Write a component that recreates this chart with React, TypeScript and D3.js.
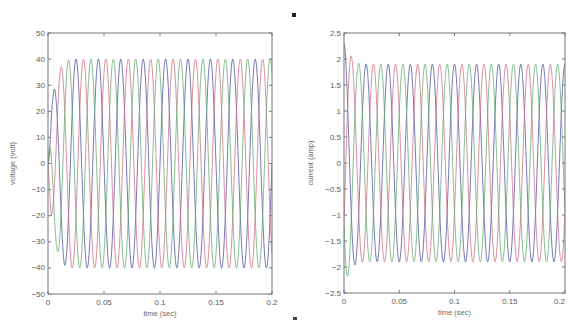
import React, { useEffect, useRef } from 'react';
import * as d3 from 'd3';

// ticks
const timeTicks = [0, 0.05, 0.1, 0.15, 0.2];
const voltTicks = [-50, -40, -30, -20, -10, 0, 10, 20, 30, 40, 50];
const currTicks = [-2.5, -2, -1.5, -1, -0.5, 0, 0.5, 1, 1.5, 2, 2.5];

// three-phase waveform parameters
const phaseNames = ['a', 'b', 'c'];
const phaseShiftsDeg = [0, -120, 120];
const phaseColors = ['#4a4c9c', '#cf6a82', '#5da86c'];
const lineFrequency = 50; // Hz

// peak envelope (time in s, peak value)
const voltEnvelope: [number, number][] = [
    [0, 0], [0.003, 22], [0.006, 30], [0.01, 36], [0.015, 39], [0.02, 40], [0.2, 40]
];
const currEnvelope: [number, number][] = [
    [0, 2.3], [0.004, 2.15], [0.008, 2.0], [0.012, 1.92], [0.02, 1.9], [0.2, 1.9]
];

const sampleStep = 0.0002;

function envelopeAt(env: [number, number][], t: number) {
    const xs = env.map(e => e[0]);
    const ys = env.map(e => e[1]);
    return d3.scaleLinear().domain(xs).range(ys).clamp(true)(t);
}

function buildSeries(env: [number, number][], cosine: boolean) {
    const times = d3.range(0, 0.2 + sampleStep / 2, sampleStep);
    return phaseNames.map((name, i) => {
        const shift = (phaseShiftsDeg[i] * Math.PI) / 180;
        const pts = times.map(t => {
            const w = 2 * Math.PI * lineFrequency * t + shift;
            const v = envelopeAt(env, t) * (cosine ? Math.cos(w) : Math.sin(w));
            return [t, v] as [number, number];
        });
        return { name, color: phaseColors[i], pts };
    });
}

function drawPanel(
    svg: d3.Selection<SVGSVGElement, unknown, null, undefined>,
    opts: {
        id: string; left: number; right: number; top: number; bottom: number;
        yDomain: [number, number]; yTicks: number[]; yLabel: string; yLabelX: number;
        series: { name: string; color: string; pts: [number, number][] }[];
    }
) {
    const x = d3.scaleLinear().domain([0, 0.2]).range([opts.left, opts.right]);
    const y = d3.scaleLinear().domain(opts.yDomain).range([opts.bottom, opts.top]);
    const font = '"Liberation Sans", Arial, sans-serif';

    svg.append('clipPath').attr('id', opts.id)
        .append('rect')
        .attr('x', opts.left).attr('y', opts.top)
        .attr('width', opts.right - opts.left).attr('height', opts.bottom - opts.top);

    const line = d3.line<[number, number]>().x(d => x(d[0])).y(d => y(d[1]));
    const lines = svg.append('g').attr('clip-path', `url(#${opts.id})`);
    opts.series.forEach(s => {
        lines.append('path')
            .attr('d', line(s.pts))
            .attr('fill', 'none')
            .attr('stroke', s.color)
            .attr('stroke-width', 1)
            .attr('stroke-opacity', 0.75);
    });

    // box
    svg.append('rect')
        .attr('x', opts.left).attr('y', opts.top)
        .attr('width', opts.right - opts.left).attr('height', opts.bottom - opts.top)
        .attr('fill', 'none').attr('stroke', '#777').attr('stroke-width', 1);

    // inward ticks (MATLAB style) on all sides
    const tg = svg.append('g').attr('stroke', '#777').attr('stroke-width', 1);
    timeTicks.forEach(t => {
        tg.append('line').attr('x1', x(t)).attr('x2', x(t)).attr('y1', opts.bottom).attr('y2', opts.bottom - 3);
        tg.append('line').attr('x1', x(t)).attr('x2', x(t)).attr('y1', opts.top).attr('y2', opts.top + 3);
    });
    opts.yTicks.forEach(v => {
        tg.append('line').attr('x1', opts.left).attr('x2', opts.left + 3).attr('y1', y(v)).attr('y2', y(v));
        tg.append('line').attr('x1', opts.right).attr('x2', opts.right - 3).attr('y1', y(v)).attr('y2', y(v));
    });

    // keep the last label inside the page when the axis runs to the edge
    svg.append('g').selectAll('text').data(timeTicks).join('text')
        .attr('x', d => Math.min(x(d), 566))
        .attr('y', opts.bottom + 11)
        .attr('text-anchor', d => (x(d) > 555 ? 'end' : 'middle'))
        .attr('font-family', font).attr('font-size', 8).attr('fill', '#5a5a5a')
        .text(d => d3.format('~g')(d));

    svg.append('g').selectAll('text').data(opts.yTicks).join('text')
        .attr('x', opts.left - 3).attr('y', d => y(d) + 2.5)
        .attr('text-anchor', 'end')
        .attr('font-family', font).attr('font-size', 8).attr('fill', '#5a5a5a')
        .text(d => d3.format('~g')(d));

    svg.append('text')
        .attr('x', (opts.left + opts.right) / 2).attr('y', opts.bottom + 22)
        .attr('text-anchor', 'middle')
        .attr('font-family', font).attr('font-size', 7.5).attr('fill', '#6a6a6a')
        .text('time (sec)');

    svg.append('text')
        .attr('transform', `translate(${opts.yLabelX},${(opts.top + opts.bottom) / 2}) rotate(-90)`)
        .attr('text-anchor', 'middle')
        .attr('font-family', font).attr('font-size', 7.5).attr('fill', '#6a6a6a')
        .text(opts.yLabel);
}

export default function App() {
    const svgRef = useRef<SVGSVGElement>(null);

    useEffect(() => {
        document.body.style.margin = '0';
        const svg = d3.select(svgRef.current as SVGSVGElement);
        svg.selectAll('*').remove();

        svg.append('rect').attr('width', 568).attr('height', 322).attr('fill', '#fff');

        drawPanel(svg, {
            id: 'clipV', left: 48, right: 272, top: 33, bottom: 294,
            yDomain: [-50, 50], yTicks: voltTicks, yLabel: 'voltage (volt)', yLabelX: 15,
            series: buildSeries(voltEnvelope, false)
        });
        drawPanel(svg, {
            id: 'clipI', left: 344, right: 565, top: 33, bottom: 293,
            yDomain: [-2.5, 2.5], yTicks: currTicks, yLabel: 'current (amp)', yLabelX: 313,
            series: buildSeries(currEnvelope, true)
        });

        // scan marks
        svg.append('rect').attr('x', 292).attr('y', 13).attr('width', 4).attr('height', 4).attr('fill', '#222');
        svg.append('rect').attr('x', 293).attr('y', 317).attr('width', 4).attr('height', 3).attr('fill', '#444');
    }, []);

    return <svg ref={svgRef} width={568} height={322} style={{ display: 'block' }} />;
}
